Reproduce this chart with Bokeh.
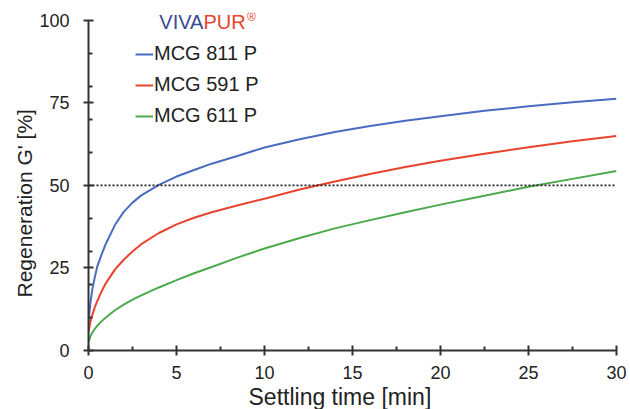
from bokeh.plotting import figure
from bokeh.models import Range1d, FixedTicker, Span, Label, Legend, LegendItem, Title
from bokeh.embed import file_html
from bokeh.resources import INLINE

time_min = [0, 0.1, 0.2, 0.35, 0.5, 0.75, 1, 1.5, 2, 2.5, 3, 4, 5, 6, 7, 8.5,
            10, 12, 14, 16, 18, 20, 22.5, 25, 27.5, 30]
mcg_811 = [8.5, 14.0, 18.0, 22.0, 25.5, 29.2, 32.5, 38.0, 42.0, 44.8, 47.0, 50.2, 52.7, 54.7, 56.6, 59.0,
           61.5, 64.0, 66.2, 68.0, 69.6, 71.0, 72.6, 74.0, 75.2, 76.3]
mcg_591 = [5.5, 8.5, 10.5, 13.0, 15.0, 18.0, 20.5, 24.5, 27.5, 30.0, 32.2, 35.6, 38.2, 40.2, 41.9, 44.0,
           46.0, 48.8, 51.2, 53.5, 55.6, 57.5, 59.6, 61.6, 63.4, 65.0]
mcg_611 = [2.5, 4.2, 5.3, 6.5, 7.5, 8.9, 10.1, 12.2, 13.9, 15.4, 16.7, 19.1, 21.3, 23.4, 25.3, 28.2,
           30.9, 34.1, 37.0, 39.5, 41.9, 44.2, 46.9, 49.6, 52.0, 54.4]

series_names = ["MCG 811 P", "MCG 591 P", "MCG 611 P"]
series_colors = ["#4a6cc0", "#e8432e", "#4caa4c"]
x_ticks = [0, 5, 10, 15, 20, 25, 30]
x_minor = [2.5, 7.5, 12.5, 17.5, 22.5, 27.5]
y_ticks = [0, 25, 50, 75, 100]
y_minor = [10, 20, 30, 40, 60, 70, 80, 90]
threshold = 50

FONT = "Liberation Sans"
AX = "#333333"
TXT = "#222222"

p = figure(width=630, height=409, output_backend="svg", toolbar_location=None,
           x_range=Range1d(0, 30), y_range=Range1d(0, 102.4),
           min_border_left=88, min_border_right=14, min_border_top=12, min_border_bottom=59)
p.grid.visible = False
p.outline_line_color = None
p.background_fill_color = "white"
p.border_fill_color = "white"

for ax in (p.xaxis[0], p.yaxis[0]):
    ax.axis_line_color = AX
    ax.axis_line_width = 2
    ax.major_tick_line_color = AX
    ax.major_tick_line_width = 2
    ax.minor_tick_line_color = AX
    ax.minor_tick_line_width = 2
    ax.major_tick_in = 5
    ax.major_tick_out = 5
    ax.minor_tick_in = 4
    ax.minor_tick_out = 0
    ax.major_label_text_font = FONT
    ax.major_label_text_font_size = "18px"
    ax.major_label_text_color = TXT

p.xaxis[0].ticker = FixedTicker(ticks=x_ticks, minor_ticks=x_minor)
p.yaxis[0].ticker = FixedTicker(ticks=y_ticks, minor_ticks=y_minor)
p.yaxis[0].bounds = (0, 100)
p.xaxis[0].major_label_standoff = 10
p.yaxis[0].major_label_standoff = 14

p.add_layout(Span(location=threshold, dimension="width", line_color="#222222",
                  line_width=1.8, line_dash="2 2"))

renderers = []
for vals, col in zip([mcg_811, mcg_591, mcg_611], series_colors):
    r = p.line(time_min, vals, line_color=col, line_width=2)
    renderers.append(r)

legend = Legend(items=[LegendItem(label=n, renderers=[r]) for n, r in zip(series_names, renderers)],
                location=(47, 223), orientation="vertical",
                label_text_font=FONT, label_text_font_size="20px", label_text_color=TXT,
                glyph_width=18, glyph_height=22, label_height=22, label_standoff=1,
                spacing=8, padding=0, margin=0,
                background_fill_alpha=0, border_line_color=None)
p.add_layout(legend)

p.add_layout(Label(x=6.53, y=99.5, text="VIVA", text_align="right", text_baseline="middle",
                   text_font=FONT, text_font_size="20px", text_color="#3b4a8f"))
p.add_layout(Label(x=6.53, y=99.5, text="PUR", text_align="left", text_baseline="middle",
                   text_font=FONT, text_font_size="20px", text_color="#e8432e"))
p.add_layout(Label(x=9.0, y=101.0, text="®", text_align="left", text_baseline="middle",
                   text_font=FONT, text_font_size="12px", text_color="#e8432e"))

p.add_layout(Title(text="Settling time [min]", align="left", offset=160, standoff=0,
                   text_font=FONT, text_font_size="23px", text_font_style="normal",
                   text_color=TXT), "below")
p.add_layout(Title(text="Regeneration G' [%]", align="left", offset=53, standoff=2,
                   text_font=FONT, text_font_size="21px", text_font_style="normal",
                   text_color=TXT), "left")

open("out.html", "w").write(file_html(p, INLINE))
